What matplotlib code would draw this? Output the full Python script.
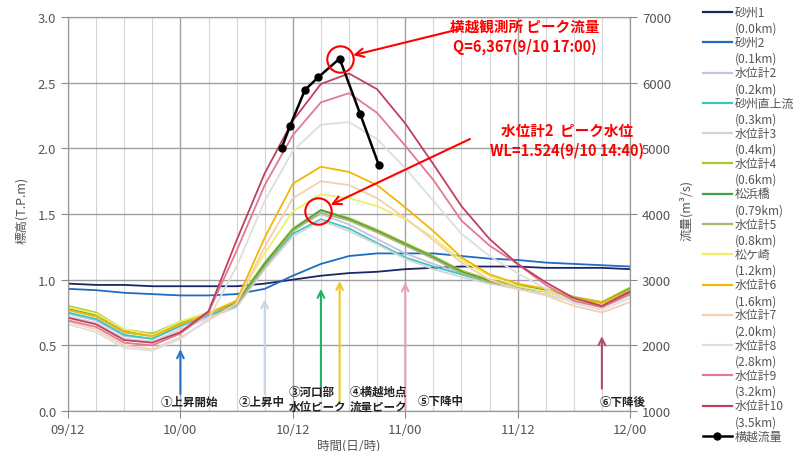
import numpy as np
import matplotlib.pyplot as plt

plt.rcParams['font.family'] = ['Noto Sans CJK JP', 'DejaVu Sans']

W, H = 801, 452

# hours after 9/12 12:00, every 3 hours
hours = np.arange(0, 61, 3)
x_ticks = [0, 12, 24, 36, 48, 60]
x_labels = ['09/12', '10/00', '10/12', '11/00', '11/12', '12/00']

# water levels (T.P.m)
sasu1 = [0.97, 0.96, 0.96, 0.95, 0.95, 0.95, 0.95, 0.97, 1.00, 1.03, 1.05,
         1.06, 1.08, 1.09, 1.10, 1.10, 1.10, 1.09, 1.09, 1.09, 1.08]
sasu2 = [0.93, 0.92, 0.90, 0.89, 0.88, 0.88, 0.89, 0.93, 1.03, 1.12, 1.18,
         1.20, 1.20, 1.20, 1.18, 1.16, 1.15, 1.13, 1.12, 1.11, 1.10]
wl2 = [0.74, 0.69, 0.57, 0.55, 0.64, 0.72, 0.80, 1.12, 1.38, 1.50, 1.42,
       1.31, 1.20, 1.12, 1.05, 0.99, 0.94, 0.91, 0.85, 0.80, 0.90]
sasu_up = [0.75, 0.70, 0.58, 0.55, 0.65, 0.73, 0.80, 1.10, 1.35, 1.46, 1.39,
           1.28, 1.17, 1.10, 1.04, 0.98, 0.94, 0.91, 0.85, 0.81, 0.90]
wl3 = [0.72, 0.67, 0.55, 0.53, 0.62, 0.71, 0.79, 1.08, 1.33, 1.45, 1.37,
       1.27, 1.16, 1.08, 1.02, 0.97, 0.93, 0.89, 0.83, 0.79, 0.88]
wl4 = [0.80, 0.75, 0.62, 0.59, 0.68, 0.75, 0.83, 1.13, 1.39, 1.53, 1.47,
       1.38, 1.28, 1.18, 1.07, 1.00, 0.96, 0.93, 0.87, 0.83, 0.94]
matsuhama = [0.78, 0.73, 0.61, 0.58, 0.67, 0.74, 0.82, 1.12, 1.38, 1.53, 1.46,
             1.37, 1.27, 1.17, 1.06, 0.99, 0.95, 0.92, 0.86, 0.82, 0.93]
wl5 = [0.77, 0.72, 0.60, 0.57, 0.66, 0.74, 0.81, 1.10, 1.37, 1.51, 1.45,
       1.36, 1.26, 1.16, 1.05, 0.98, 0.95, 0.91, 0.86, 0.82, 0.92]
matsugasaki = [0.79, 0.74, 0.62, 0.58, 0.68, 0.75, 0.84, 1.20, 1.52, 1.65, 1.62,
               1.56, 1.46, 1.32, 1.15, 1.03, 0.95, 0.91, 0.85, 0.81, 0.92]
wl6 = [0.77, 0.72, 0.60, 0.57, 0.66, 0.74, 0.84, 1.32, 1.73, 1.86, 1.82,
       1.72, 1.55, 1.37, 1.17, 1.04, 0.97, 0.93, 0.86, 0.82, 0.92]
wl7 = [0.68, 0.62, 0.50, 0.47, 0.56, 0.69, 0.82, 1.25, 1.62, 1.75, 1.72,
       1.62, 1.47, 1.30, 1.13, 1.00, 0.93, 0.88, 0.80, 0.75, 0.83]
wl8 = [0.66, 0.60, 0.48, 0.46, 0.55, 0.70, 1.10, 1.60, 1.98, 2.18, 2.20,
       2.07, 1.85, 1.60, 1.35, 1.18, 1.05, 0.93, 0.82, 0.77, 0.86]
wl9 = [0.69, 0.64, 0.52, 0.50, 0.59, 0.75, 1.22, 1.72, 2.10, 2.35, 2.42,
       2.27, 2.02, 1.76, 1.45, 1.26, 1.12, 0.96, 0.84, 0.79, 0.89]
wl10 = [0.71, 0.66, 0.54, 0.52, 0.60, 0.76, 1.30, 1.81, 2.21, 2.49, 2.57,
        2.45, 2.19, 1.88, 1.56, 1.31, 1.12, 0.98, 0.86, 0.80, 0.91]

# discharge at Yokogoshi (m3/s)
flow_hours = [22.8, 23.7, 25.3, 26.7, 29.0, 31.2, 33.2]
flow = [5000, 5340, 5890, 6080, 6367, 5520, 4740]

names = ['砂州1', '砂州2', '水位計2', '砂州直上流', '水位計3', '水位計4', '松浜橋',
         '水位計5', '松ケ崎', '水位計6', '水位計7', '水位計8', '水位計9', '水位計10']
kms = ['(0.0km)', '(0.1km)', '(0.2km)', '(0.3km)', '(0.4km)', '(0.6km)', '(0.79km)',
       '(0.8km)', '(1.2km)', '(1.6km)', '(2.0km)', '(2.8km)', '(3.2km)', '(3.5km)']
levels = [sasu1, sasu2, wl2, sasu_up, wl3, wl4, matsuhama,
          wl5, matsugasaki, wl6, wl7, wl8, wl9, wl10]
colors = ['#1c2566', '#1f6cc0', '#c9c2e2', '#3cc6c0', '#d4d4d4', '#a9c832', '#3fa34d',
          '#b2b46e', '#eef06a', '#f2b705', '#f5cfae', '#dedede', '#e07a95', '#c0405e']

# peak / event markers
peak_q = (29.0, 6367)
peak_wl = (26.7, 1.524)
events = [  # hour, arrow tip, arrow base, color
    (12, 0.47, 0.13, '#2a72c0'),
    (21, 0.85, 0.13, '#c8d6e4'),
    (27, 0.93, 0.11, '#1fb35f'),
    (29, 0.99, 0.08, '#f2c52a'),
    (36, 0.98, 0.02, '#eaa3b3'),
    (57, 0.57, 0.17, '#b05068'),
]

fig = plt.figure(figsize=(W / 100, H / 100), dpi=100)
ax = fig.add_axes([68 / W, 40 / H, 562 / W, 394 / H])

for vals, c in zip(levels, colors):
    ax.plot(hours, vals, color=c, lw=1.3)

ax.set_xlim(0, 60)
ax.set_ylim(0, 3)
ax.set_xticks(x_ticks)
ax.set_xticklabels(x_labels)
ax.set_xticks(np.arange(0, 61, 3), minor=True)
ax.set_yticks(np.arange(0, 3.01, 0.5))
ax.set_yticklabels(['%.1f' % v for v in np.arange(0, 3.01, 0.5)])
ax.grid(which='major', color='#a0a0a0', lw=1.0)
ax.grid(which='minor', axis='x', color='#d6d6d6', lw=0.8)
ax.set_axisbelow(True)
ax.tick_params(which='major', direction='out', length=5, color='#888888',
               labelsize=9.5, labelcolor='#555555')
ax.tick_params(which='minor', length=0)
for s in ax.spines.values():
    s.set_color('#999999')

ax2 = ax.twinx()
ax2.plot(flow_hours, flow, color='black', lw=1.8, marker='o', ms=5)
ax2.set_ylim(1000, 7000)
ax2.set_yticks(range(1000, 7001, 1000))
ax2.tick_params(direction='out', length=5, color='#888888',
                labelsize=9.5, labelcolor='#555555')
for s in ax2.spines.values():
    s.set_color('#999999')

# event arrows
for h, tip, base, c in events:
    ax.annotate('', xy=(h, tip), xytext=(h, base),
                arrowprops=dict(arrowstyle='->', color=c, lw=1.5,
                                shrinkA=0, shrinkB=0, mutation_scale=12))

lab = dict(fontsize=8.3, weight='bold', color='#222222', va='center')
fig.text(189 / W, 1 - 402 / H, '①上昇開始', ha='center', **lab)
fig.text(262 / W, 1 - 402 / H, '②上昇中', ha='center', **lab)
fig.text(289 / W, 1 - 392 / H, '③河口部', ha='left', **lab)
fig.text(289 / W, 1 - 407 / H, '水位ピーク', ha='left', **lab)
fig.text(350 / W, 1 - 392 / H, '④横越地点', ha='left', **lab)
fig.text(350 / W, 1 - 407 / H, '流量ピーク', ha='left', **lab)
fig.text(441 / W, 1 - 402 / H, '⑤下降中', ha='center', **lab)
fig.text(600 / W, 1 - 402 / H, '⑥下降後', ha='left', **lab)

# peak highlights
ax2.plot(*peak_q, marker='o', ms=19, mfc='none', mec='red', mew=1.5, zorder=5)
ax.plot(*peak_wl, marker='o', ms=19, mfc='none', mec='red', mew=1.5, zorder=5)
ax2.annotate('', xy=peak_q, xytext=(460, H - 30), textcoords='figure pixels',
             arrowprops=dict(arrowstyle='->', color='red', lw=1.5,
                             shrinkA=0, shrinkB=10, mutation_scale=15))
ax2.annotate('', xy=ax2.transData.inverted().transform(
                 ax.transData.transform(peak_wl)),
             xytext=(470, H - 140), textcoords='figure pixels',
             arrowprops=dict(arrowstyle='->', color='red', lw=1.5,
                             shrinkA=0, shrinkB=10, mutation_scale=15))
red = dict(fontsize=10.5, weight='bold', color='red', ha='center', va='center')
fig.text(525 / W, 1 - 27 / H, '横越観測所 ピーク流量', **red)
fig.text(525 / W, 1 - 47 / H, 'Q=6,367(9/10 17:00)', **red)
fig.text(567 / W, 1 - 131 / H, '水位計2  ピーク水位', **red)
fig.text(567 / W, 1 - 151 / H, 'WL=1.524(9/10 14:40)', **red)

# axis titles
fig.text(22 / W, 1 - 210 / H, '標高(T.P.m)', rotation=90, fontsize=9,
         color='#555555', ha='center', va='center')
fig.text(686 / W, 1 - 211 / H, '流量(m³/s)', rotation=90, fontsize=9,
         color='#555555', ha='center', va='center')
fig.text(349 / W, 1 - 446 / H, '時間(日/時)', fontsize=9,
         color='#555555', ha='center', va='center')

# legend drawn beside the right axis
step = (437 - 13) / 14
for i in range(15):
    y = 1 - (13 + i * step) / H
    if i < 14:
        fig.add_artist(plt.Line2D([703 / W, 732 / W], [y, y], color=colors[i], lw=1.6))
        fig.text(735 / W, y, names[i], fontsize=8.6, color='#555555', va='center')
        fig.text(735 / W, y - 16 / H, kms[i], fontsize=8.6, color='#555555', va='center')
    else:
        fig.add_artist(plt.Line2D([703 / W, 732 / W], [y, y], color='black', lw=1.8))
        fig.add_artist(plt.Line2D([717 / W], [y], color='black', marker='o', ms=5))
        fig.text(735 / W, y, '横越流量', fontsize=8.6, color='#555555', va='center')

fig.savefig('out.png', dpi=100)
